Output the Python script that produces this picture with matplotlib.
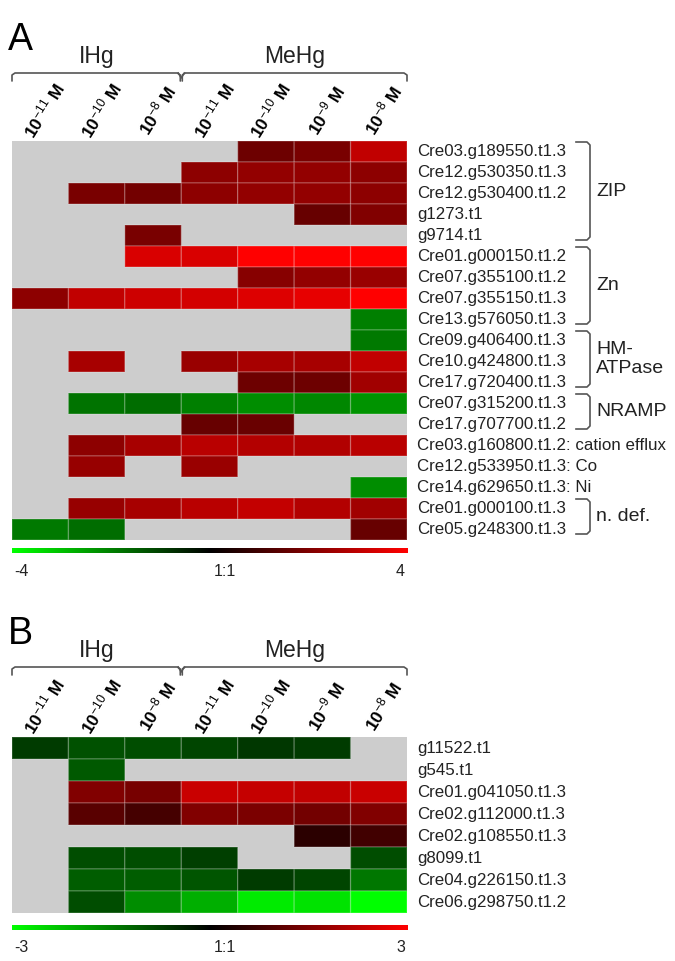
import numpy as np
import matplotlib
matplotlib.use('Agg')
import matplotlib.pyplot as plt
from matplotlib.colors import LinearSegmentedColormap

plt.rcParams['font.family'] = ['Liberation Sans', 'DejaVu Sans']
plt.rcParams['mathtext.fontset'] = 'custom'
plt.rcParams['mathtext.rm'] = 'Liberation Sans'
plt.rcParams['mathtext.it'] = 'Liberation Sans:italic'
plt.rcParams['mathtext.bf'] = 'Liberation Sans:bold'

nan = np.nan

conc_labels = ['10$^{-11}$ M', '10$^{-10}$ M', '10$^{-8}$ M',
               '10$^{-11}$ M', '10$^{-10}$ M', '10$^{-9}$ M', '10$^{-8}$ M']

genes_a = ['Cre03.g189550.t1.3', 'Cre12.g530350.t1.3', 'Cre12.g530400.t1.2',
           'g1273.t1', 'g9714.t1', 'Cre01.g000150.t1.2', 'Cre07.g355100.t1.2',
           'Cre07.g355150.t1.3', 'Cre13.g576050.t1.3', 'Cre09.g406400.t1.3',
           'Cre10.g424800.t1.3', 'Cre17.g720400.t1.3', 'Cre07.g315200.t1.3',
           'Cre17.g707700.t1.2', 'Cre03.g160800.t1.2: cation efflux',
           'Cre12.g533950.t1.3: Co', 'Cre14.g629650.t1.3: Ni',
           'Cre01.g000100.t1.3', 'Cre05.g248300.t1.3']

vals_a = [
    [nan, nan, nan, nan, 1.7, 1.9, 3.0],
    [nan, nan, nan, 2.2, 2.3, 2.3, 2.2],
    [nan, 1.9, 1.8, 2.2, 2.3, 2.3, 2.2],
    [nan, nan, nan, nan, nan, 1.6, 2.0],
    [nan, nan, 1.9, nan, nan, nan, nan],
    [nan, nan, 3.4, 3.4, 4.0, 4.0, 4.0],
    [nan, nan, nan, nan, 2.1, 2.3, 2.4],
    [2.2, 3.0, 3.2, 3.3, 3.45, 3.6, 4.0],
    [nan, nan, nan, nan, nan, nan, -2.0],
    [nan, nan, nan, nan, nan, nan, -1.9],
    [nan, 2.6, nan, 2.4, 2.6, 2.6, 3.0],
    [nan, nan, nan, nan, 1.7, 1.7, 2.5],
    [nan, -1.8, -1.7, -2.0, -2.2, -2.1, -2.3],
    [nan, nan, nan, 1.6, 1.65, nan, nan],
    [nan, 2.2, 2.6, 2.9, 2.8, 2.75, 2.9],
    [nan, 2.35, nan, 2.4, nan, nan, nan],
    [nan, nan, nan, nan, nan, nan, -2.2],
    [nan, 2.35, 2.6, 2.9, 3.05, 2.8, 2.5],
    [-1.9, -1.7, nan, nan, nan, nan, 1.6],
]

# gene families: (label, first row, last row)
groups_a = [('ZIP', 0, 4), ('Zn', 5, 8), ('HM-\nATPase', 9, 11),
            ('NRAMP', 12, 13), ('n. def.', 17, 18)]

genes_b = ['g11522.t1', 'g545.t1', 'Cre01.g041050.t1.3', 'Cre02.g112000.t1.3',
           'Cre02.g108550.t1.3', 'g8099.t1', 'Cre04.g226150.t1.3',
           'Cre06.g298750.t1.2']

vals_b = [
    [-0.7, -0.95, -0.9, -0.8, -0.65, -0.7, nan],
    [nan, -1.05, nan, nan, nan, nan, nan],
    [nan, 1.5, 1.4, 2.35, 2.3, 2.25, 2.35],
    [nan, 1.05, 0.8, 1.5, 1.45, 1.35, 1.5],
    [nan, nan, nan, nan, nan, 0.5, 0.75],
    [nan, -0.9, -0.9, -0.75, nan, nan, -0.9],
    [nan, -1.1, -1.1, -1.0, -0.7, -0.8, -1.4],
    [nan, -0.9, -1.65, -2.05, -2.75, -2.65, -3.0],
]

W, H = 675, 961
cmap = LinearSegmentedColormap.from_list('gkr', ['#00ff00', '#000000', '#ff0000'])
gray = '#cdcdcd'
txt_col = '#222222'
br_col = '#555555'

fig = plt.figure(figsize=(W / 100, H / 100), dpi=100)
ov = fig.add_axes([0, 0, 1, 1])
ov.set_xlim(0, W)
ov.set_ylim(H, 0)
ov.axis('off')


def px_axes(x0, y0, x1, y1):
    return fig.add_axes([x0 / W, 1 - y1 / H, (x1 - x0) / W, (y1 - y0) / H])


x0, x1 = 12, 407
colw = (x1 - x0) / 7


def panel(letter, top, vals, genes, lim, head_y):
    nrow = len(vals)
    rowh = 21 if nrow > 10 else 22
    bottom = top + nrow * rowh
    ax = px_axes(x0, top, x1, bottom)
    ax.set_facecolor(gray)
    data = np.ma.masked_invalid(np.array(vals))
    # pcolor skips masked cells, so empty cells stay plain grey
    ax.pcolor(data, cmap=cmap, vmin=-lim, vmax=lim,
              edgecolors=(1, 1, 1, 0.2), linewidth=1.0)
    ax.set_xlim(0, 7)
    ax.set_ylim(nrow, 0)
    ax.set_xticks([])
    ax.set_yticks([])
    for s in ax.spines.values():
        s.set_visible(False)

    # panel letter and treatment headers
    ov.text(8, head_y - 33, letter, fontsize=27, ha='left', va='center', color='black')
    ov.text(x0 + 1.5 * colw, head_y - 17, 'IHg', fontsize=16.5, ha='center', va='center', color=txt_col)
    ov.text(x0 + 5 * colw, head_y - 17, 'MeHg', fontsize=16.5, ha='center', va='center', color=txt_col)
    by = head_y
    xm = x0 + 3 * colw
    for a, b in [(x0, xm - 1), (xm + 1, x1)]:
        ov.plot([a, a, a + 3, b - 3, b, b], [by + 8, by + 2, by, by, by + 2, by + 8],
                color=br_col, lw=1.2, solid_capstyle='round')
    ov.plot([xm - 3, xm, xm + 3], [by, by + 5, by], color=br_col, lw=1.2)

    for j, lab in enumerate(conc_labels):
        ov.text(x0 + (j + 0.5) * colw + 4, top - 31, lab, fontsize=12.5, rotation=58,
                ha='center', va='center', color='black', fontweight='bold')

    for i, g in enumerate(genes):
        ov.text(417, top + (i + 0.5) * rowh, g, fontsize=12.2, ha='left', va='center', color=txt_col)

    # colour scale
    cb_y = bottom + 10 if nrow > 10 else bottom + 14
    cax = px_axes(x0, cb_y - 2, x1 + 1, cb_y + 3)
    cax.imshow(np.linspace(-1, 1, 256)[None, :], aspect='auto', cmap=cmap)
    cax.axis('off')
    ly = cb_y + 21
    ov.text(x0 + 2, ly, '-%d' % lim, fontsize=11.5, ha='left', va='center', color=txt_col)
    ov.text(225, ly, '1:1', fontsize=11.5, ha='center', va='center', color=txt_col)
    ov.text(x1 - 2, ly, '%d' % lim, fontsize=11.5, ha='right', va='center', color=txt_col)
    return rowh


rowh = panel('A', 141, vals_a, genes_a, 4, 73)
panel('B', 737, vals_b, genes_b, 3, 667)

# family brackets on the right of panel A
bx = 590
for lab, r0, r1 in groups_a:
    ya = 141 + r0 * rowh + 1
    yb = 141 + (r1 + 1) * rowh - 6
    ov.plot([bx - 14, bx - 3, bx, bx, bx - 3, bx - 14], [ya, ya, ya + 3, yb - 3, yb, yb],
            color=br_col, lw=1.2)
    ov.text(bx + 6, (ya + yb) / 2, lab, fontsize=14, ha='left', va='center',
            color=txt_col, linespacing=1.15)

fig.savefig('out.png', dpi=100)
